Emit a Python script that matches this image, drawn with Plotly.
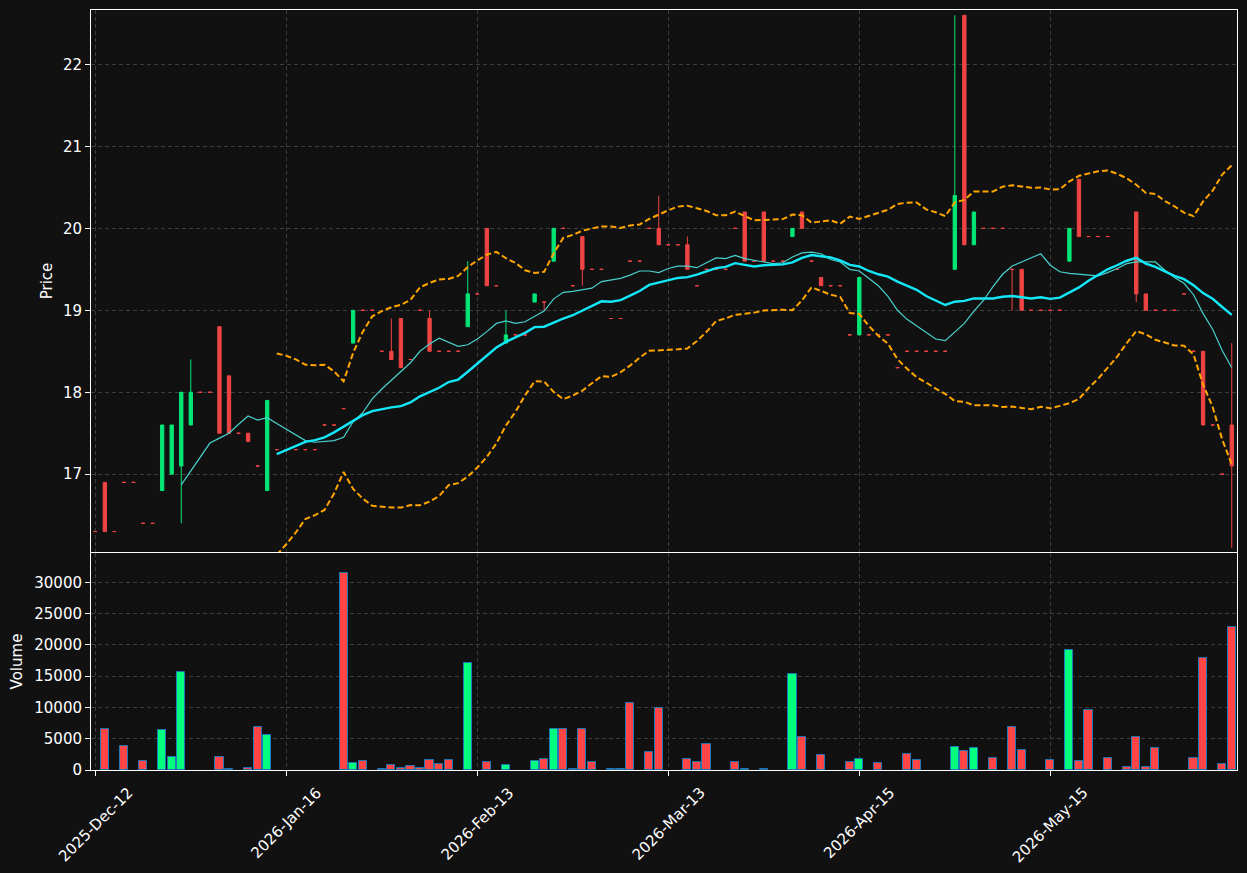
import plotly.graph_objects as go
import pandas as pd

# ---------------- data ----------------
opens = [16.3, 16.9, 16.3, 16.9, 16.9, 16.4, 16.4, 16.8, 17.0, 17.1,
         17.6, 18.0, 18.0, 18.8, 18.2, 17.5, 17.5, 17.1, 16.8, 17.3,
         17.3, 17.3, 17.3, 17.3, 17.6, 17.6, 17.8, 18.6, 19.0, 19.0,
         18.5, 18.5, 18.9, 18.4, 19.0, 18.9, 18.5, 18.5, 18.5, 18.8,
         19.2, 20.0, 19.3, 18.6, 18.7, 18.7, 19.1, 19.1, 19.6, 20.0,
         19.3, 19.9, 19.5, 19.5, 18.9, 18.9, 19.6, 19.6, 20.0, 20.0,
         19.8, 19.8, 19.8, 19.3, 19.5, 19.5, 19.5, 20.0, 20.2, 19.6,
         20.2, 19.6, 19.6, 19.9, 20.2, 19.6, 19.4, 19.3, 19.3, 18.7,
         18.7, 18.7, 18.7, 18.7, 18.3, 18.5, 18.5, 18.5, 18.5, 18.5,
         19.5, 22.6, 19.8, 20.0, 20.0, 20.0, 19.5, 19.5, 19.0, 19.0,
         19.0, 19.0, 19.6, 20.6, 19.9, 19.9, 19.9, 19.5, 19.6, 20.2,
         19.2, 19.0, 19.0, 19.0, 19.2, 18.5, 18.5, 17.6, 17.0, 17.6]
highs = [16.3, 16.9, 16.3, 16.9, 16.9, 16.4, 16.4, 17.6, 17.6, 18.0,
         18.4, 18.0, 18.0, 18.8, 18.2, 17.5, 17.5, 17.1, 17.9, 17.3,
         17.3, 17.3, 17.3, 17.3, 17.6, 17.6, 17.8, 19.0, 19.0, 19.0,
         18.5, 18.9, 18.9, 18.4, 19.0, 19.0, 18.5, 18.5, 18.5, 19.6,
         19.2, 20.0, 19.3, 19.0, 18.7, 18.7, 19.2, 19.1, 20.0, 20.0,
         19.3, 19.9, 19.5, 19.5, 18.9, 18.9, 19.6, 19.6, 20.0, 20.4,
         19.8, 19.8, 19.9, 19.3, 19.5, 19.5, 19.5, 20.0, 20.2, 19.6,
         20.2, 19.6, 19.6, 20.0, 20.2, 19.6, 19.4, 19.3, 19.3, 18.7,
         19.4, 18.7, 18.7, 18.7, 18.3, 18.5, 18.5, 18.5, 18.5, 18.5,
         22.6, 22.6, 20.2, 20.0, 20.0, 20.0, 19.5, 19.5, 19.0, 19.0,
         19.0, 19.0, 20.0, 20.6, 19.9, 19.9, 19.9, 19.5, 19.6, 20.2,
         19.2, 19.0, 19.0, 19.0, 19.2, 18.5, 18.5, 17.6, 17.0, 18.6]
lows = [16.3, 16.3, 16.3, 16.9, 16.9, 16.4, 16.4, 16.8, 17.0, 16.4,
        17.6, 18.0, 18.0, 17.5, 17.5, 17.5, 17.4, 17.1, 16.8, 17.3,
        17.3, 17.3, 17.3, 17.3, 17.6, 17.6, 17.8, 18.6, 19.0, 19.0,
        18.5, 18.4, 18.3, 18.4, 19.0, 18.5, 18.5, 18.5, 18.5, 18.8,
        19.2, 19.3, 19.3, 18.6, 18.7, 18.7, 19.1, 19.0, 19.6, 20.0,
        19.3, 19.3, 19.5, 19.5, 18.9, 18.9, 19.6, 19.6, 20.0, 19.8,
        19.8, 19.8, 19.5, 19.3, 19.5, 19.5, 19.5, 20.0, 19.6, 19.6,
        19.6, 19.6, 19.6, 19.9, 20.0, 19.6, 19.3, 19.3, 19.3, 18.7,
        18.7, 18.7, 18.7, 18.7, 18.3, 18.5, 18.5, 18.5, 18.5, 18.5,
        19.5, 19.8, 19.8, 20.0, 20.0, 20.0, 19.0, 19.0, 19.0, 19.0,
        19.0, 19.0, 19.6, 19.9, 19.9, 19.9, 19.9, 19.5, 19.6, 19.1,
        19.0, 19.0, 19.0, 19.0, 19.2, 18.5, 17.6, 17.6, 17.0, 16.1]
closes = [16.3, 16.3, 16.3, 16.9, 16.9, 16.4, 16.4, 17.6, 17.6, 18.0,
          18.0, 18.0, 18.0, 17.5, 17.5, 17.5, 17.4, 17.1, 17.9, 17.3,
          17.3, 17.3, 17.3, 17.3, 17.6, 17.6, 17.8, 19.0, 19.0, 19.0,
          18.5, 18.4, 18.3, 18.4, 19.0, 18.5, 18.5, 18.5, 18.5, 19.2,
          19.2, 19.3, 19.3, 18.7, 18.7, 18.7, 19.2, 19.1, 20.0, 20.0,
          19.3, 19.5, 19.5, 19.5, 18.9, 18.9, 19.6, 19.6, 20.0, 19.8,
          19.8, 19.8, 19.5, 19.3, 19.5, 19.5, 19.5, 20.0, 19.6, 19.6,
          19.6, 19.6, 19.6, 20.0, 20.0, 19.6, 19.3, 19.3, 19.3, 18.7,
          19.4, 18.7, 18.7, 18.7, 18.3, 18.5, 18.5, 18.5, 18.5, 18.5,
          20.4, 19.8, 20.2, 20.0, 20.0, 20.0, 19.5, 19.0, 19.0, 19.0,
          19.0, 19.0, 20.0, 19.9, 19.9, 19.9, 19.9, 19.5, 19.6, 19.2,
          19.0, 19.0, 19.0, 19.0, 19.2, 18.5, 17.6, 17.6, 17.0, 17.1]
volumes = [0, 6500, 0, 3800, 0, 1400, 0, 6350, 2000, 15650,
           0, 0, 0, 2030, 100, 0, 270, 6800, 5550, 0,
           0, 0, 0, 0, 0, 0, 31500, 1070, 1390, 0,
           100, 750, 270, 590, 270, 1550, 960, 1550, 0, 17100,
           0, 1230, 0, 750, 0, 0, 1390, 1710, 6500, 6500,
           100, 6500, 1230, 0, 100, 100, 10680, 0, 2830, 9880,
           0, 0, 1710, 1230, 4110, 0, 0, 1230, 100, 0,
           100, 0, 0, 15330, 5230, 0, 2350, 0, 0, 1230,
           1710, 0, 1070, 0, 0, 2510, 1550, 0, 0, 0,
           3630, 2990, 3470, 0, 1870, 0, 6835, 3150, 0, 0,
           1550, 0, 19170, 1390, 9560, 0, 1870, 0, 430, 5230,
           430, 3470, 0, 0, 0, 1870, 17890, 0, 910, 22860]
tick_positions = [0, 20, 40, 60, 80, 100]
tick_labels = ["2025-Dec-12", "2026-Jan-16", "2026-Feb-13",
               "2026-Mar-13", "2026-Apr-15", "2026-May-15"]
price_ticks = [17, 18, 19, 20, 21, 22]
volume_ticks = [0, 5000, 10000, 15000, 20000, 25000, 30000]

# ---------------- styling ----------------
BG = "#111111"
GRID = "#3d3d3d"
C_UP = "#00e676"
C_DN = "#ef4444"
V_UP = "#00ff7f"
V_DN = "#ff4545"
FONT = dict(family="DejaVu Sans", size=15, color="#ffffff")

idx = list(range(len(closes)))
s = pd.Series(closes, dtype=float)
ma10 = s.rolling(10).mean()
ma20 = s.rolling(20).mean()
sd20 = s.rolling(20).std(ddof=0)
bb_up = ma20 + 2 * sd20
bb_lo = ma20 - 2 * sd20

is_up = [c > o for o, c in zip(opens, closes)]

fig = go.Figure()


def candle(mask, color):
    sel = [i for i in idx if mask[i]]
    return go.Candlestick(
        x=sel,
        open=[opens[i] for i in sel], high=[highs[i] for i in sel],
        low=[lows[i] for i in sel], close=[closes[i] for i in sel],
        increasing=dict(line=dict(color=color, width=1), fillcolor=color),
        decreasing=dict(line=dict(color=color, width=1), fillcolor=color),
        whiskerwidth=0, showlegend=False, hoverinfo="skip",
        xaxis="x", yaxis="y")


fig.add_trace(candle(is_up, C_UP))
fig.add_trace(candle([not u for u in is_up], C_DN))

fig.add_trace(go.Scatter(x=idx, y=ma10, mode="lines",
                         line=dict(color="#48d1cc", width=1.2),
                         showlegend=False, xaxis="x", yaxis="y"))
fig.add_trace(go.Scatter(x=idx, y=ma20, mode="lines",
                         line=dict(color="#14e8f8", width=2.4),
                         showlegend=False, xaxis="x", yaxis="y"))
for band in (bb_up, bb_lo):
    fig.add_trace(go.Scatter(x=idx, y=band, mode="lines",
                             line=dict(color="#ffa500", width=2, dash="6px,3px"),
                             showlegend=False, xaxis="x", yaxis="y"))

vol_plot = [v if v > 0 else None for v in volumes]
vol_cols = [V_UP if u else V_DN for u in is_up]
fig.add_trace(go.Bar(x=idx, y=vol_plot, width=0.85,
                     marker=dict(color=vol_cols, line=dict(color="#1f77b4", width=1)),
                     showlegend=False, xaxis="x2", yaxis="y2"))

axis_common = dict(showline=True, mirror=True, linecolor="#ffffff", linewidth=1,
                   showgrid=True, gridcolor=GRID, griddash="4px,3px", gridwidth=1,
                   zeroline=False, tickfont=FONT, tickcolor="#ffffff",
                   ticklen=5, tickwidth=1)

# date labels centred under their ticks, rotated 45 degrees
annotations = [dict(x=p, y=-0.0145, xref="x2", yref="paper", text=t,
                    textangle=-45, showarrow=False, xanchor="center",
                    yanchor="top", font=FONT)
               for p, t in zip(tick_positions, tick_labels)]

fig.update_layout(
    width=1247, height=873,
    margin=dict(l=91, r=10, t=10, b=103),
    paper_bgcolor=BG, plot_bgcolor=BG,
    font=FONT, showlegend=False, boxgap=0.5, bargap=0,
    annotations=annotations,
    xaxis=dict(domain=[0, 1], anchor="y", range=[-0.45, 119.55],
               tickvals=tick_positions, showticklabels=False, ticks="",
               rangeslider=dict(visible=False), matches="x2", **axis_common),
    xaxis2=dict(domain=[0, 1], anchor="y2", range=[-0.45, 119.55],
                tickvals=tick_positions, showticklabels=False,
                ticks="outside", **axis_common),
    yaxis=dict(domain=[0.2868, 1], anchor="x", range=[16.05, 22.665],
               tickvals=price_ticks, ticktext=[str(t) for t in price_ticks],
               ticks="outside",
               title=dict(text="Price", font=FONT, standoff=6), **axis_common),
    yaxis2=dict(domain=[0, 0.2855], anchor="x2", range=[0, 34700],
                tickvals=volume_ticks, ticktext=[str(t) for t in volume_ticks],
                ticks="outside",
                title=dict(text="Volume", font=FONT, standoff=8), **axis_common),
)

fig.write_html("out.html")
